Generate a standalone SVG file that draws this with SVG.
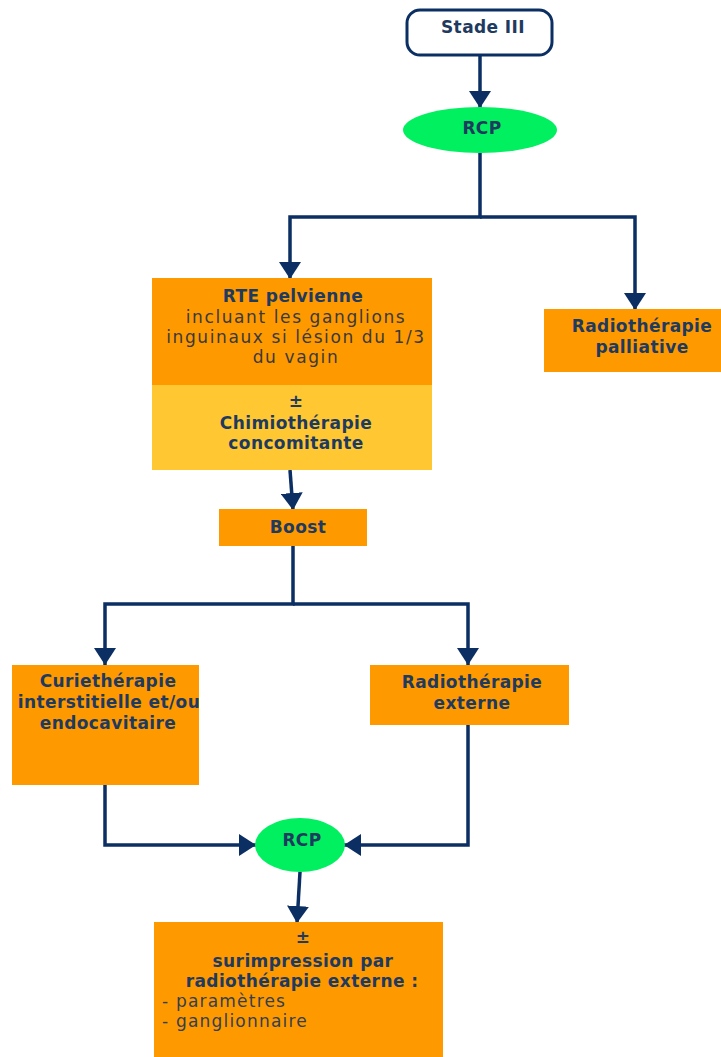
<svg xmlns="http://www.w3.org/2000/svg" width="721" height="1057" viewBox="0 0 721 1057">
  <style>
    .bg { fill: #ffffff; }
    .box { fill: #FF9900; }
    .boxLight { fill: #FFC832; }
    .oval { fill: #00F060; }
    .start { fill: #ffffff; stroke: #0B2E63; stroke-width: 3; }
    .link { fill: none; stroke: #0B2E63; stroke-width: 3.5; }
    .b { font-family: "DejaVu Sans", Verdana, sans-serif; font-weight: bold; font-size: 17px; letter-spacing: 0.4px; fill: #1F3A5F; text-anchor: middle; }
    .r { font-family: "DejaVu Sans", Verdana, sans-serif; font-size: 17px; letter-spacing: 1.6px; fill: #3A3A3A; text-anchor: middle; }
    .rl { font-family: "DejaVu Sans", Verdana, sans-serif; font-size: 17px; letter-spacing: 1.2px; fill: #33404F; }
  </style>
  <defs>
    <marker id="arrow" markerUnits="userSpaceOnUse" markerWidth="18" markerHeight="22" refX="17" refY="11" orient="auto">
      <path d="M0,0 L17,11 L0,22 Z" fill="#0B2E63"/>
    </marker>
  </defs>

  <rect class="bg" x="0" y="0" width="721" height="1057"/>

  <!-- connectors -->
  <g id="connectors">
    <line class="link" x1="480" y1="55" x2="480" y2="108" marker-end="url(#arrow)"/>
    <polyline class="link" points="480,153 480,217 290,217 290,279" marker-end="url(#arrow)"/>
    <polyline class="link" points="480,217 635,217 635,310" marker-end="url(#arrow)"/>
    <line class="link" x1="290" y1="470" x2="293" y2="510" marker-end="url(#arrow)"/>
    <polyline class="link" points="293,546 293,604 105,604 105,665" marker-end="url(#arrow)"/>
    <polyline class="link" points="293,604 468,604 468,665" marker-end="url(#arrow)"/>
    <polyline class="link" points="105,785 105,845 256,845" marker-end="url(#arrow)"/>
    <polyline class="link" points="468,725 468,845 344,845" marker-end="url(#arrow)"/>
    <line class="link" x1="300" y1="872" x2="297" y2="923" marker-end="url(#arrow)"/>
  </g>

  <!-- start node -->
  <g id="stade">
    <rect class="start" x="407" y="10" width="145" height="45" rx="13" ry="13"/>
    <text class="b" x="483" y="33">Stade III</text>
  </g>

  <!-- first meeting -->
  <g id="rcp1">
    <ellipse class="oval" cx="480" cy="130" rx="77" ry="23"/>
    <text class="b" x="482" y="134">RCP</text>
  </g>

  <!-- pelvic external radiotherapy -->
  <g id="rte">
    <rect class="box" x="152" y="278" width="280" height="107"/>
    <rect class="boxLight" x="152" y="385" width="280" height="85"/>
    <text class="b" x="293" y="302">RTE pelvienne</text>
    <text class="r" x="296" y="323">incluant les ganglions</text>
    <text class="r" x="296" y="343">inguinaux si lésion du 1/3</text>
    <text class="r" x="296" y="363">du vagin</text>
    <text class="b" x="296" y="407">±</text>
    <text class="b" x="296" y="429">Chimiothérapie</text>
    <text class="b" x="296" y="449">concomitante</text>
  </g>

  <!-- palliative radiotherapy -->
  <g id="palliative">
    <rect class="box" x="544" y="309" width="177" height="63"/>
    <text class="b" x="642" y="332">Radiothérapie</text>
    <text class="b" x="642" y="353">palliative</text>
  </g>

  <!-- boost -->
  <g id="boost">
    <rect class="box" x="219" y="509" width="148" height="37"/>
    <text class="b" x="298" y="533">Boost</text>
  </g>

  <!-- brachytherapy -->
  <g id="curie">
    <rect class="box" x="12" y="665" width="187" height="120"/>
    <text class="b" x="108" y="687">Curiethérapie</text>
    <text class="b" x="109" y="708">interstitielle et/ou</text>
    <text class="b" x="108" y="729">endocavitaire</text>
  </g>

  <!-- external radiotherapy -->
  <g id="externe">
    <rect class="box" x="370" y="665" width="199" height="60"/>
    <text class="b" x="472" y="688">Radiothérapie</text>
    <text class="b" x="472" y="709">externe</text>
  </g>

  <!-- second meeting -->
  <g id="rcp2">
    <ellipse class="oval" cx="300" cy="845" rx="45" ry="27"/>
    <text class="b" x="302" y="846">RCP</text>
  </g>

  <!-- overprint -->
  <g id="surimpression">
    <rect class="box" x="154" y="922" width="289" height="135"/>
    <text class="b" x="303" y="943">±</text>
    <text class="b" x="303" y="967">surimpression par</text>
    <text class="b" x="302" y="987">radiothérapie externe :</text>
    <text class="rl" x="162" y="1007">- paramètres</text>
    <text class="rl" x="162" y="1027">- ganglionnaire</text>
  </g>
</svg>
